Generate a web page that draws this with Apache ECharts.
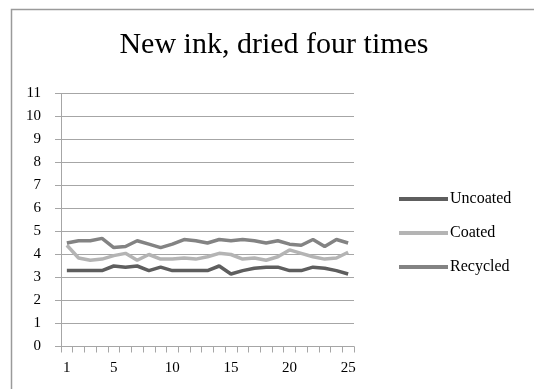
<!DOCTYPE html>
<html>
<head>
<meta charset="utf-8">
<script src="https://cdn.jsdelivr.net/npm/echarts@6/dist/echarts.min.js"></script>
<style>
  html, body { margin: 0; padding: 0; background: #ffffff; }
  #chart { width: 534px; height: 389px; }
</style>
</head>
<body>
<div id="chart"></div>
<script>
// Sample numbers along the x axis
const categories = ['1','2','3','4','5','6','7','8','9','10','11','12','13','14','15','16','17','18','19','20','21','22','23','24','25'];

// Measured values for each paper type
const uncoated = [3.3, 3.3, 3.3, 3.3, 3.5, 3.45, 3.5, 3.3, 3.45, 3.3, 3.3, 3.3, 3.3, 3.5, 3.15, 3.3, 3.4, 3.45, 3.45, 3.3, 3.3, 3.45, 3.4, 3.3, 3.15];
const coated   = [4.4, 3.85, 3.75, 3.8, 3.95, 4.05, 3.75, 4.0, 3.8, 3.8, 3.85, 3.8, 3.9, 4.05, 4.0, 3.8, 3.85, 3.75, 3.9, 4.2, 4.05, 3.9, 3.8, 3.85, 4.1];
const recycled = [4.5, 4.6, 4.6, 4.7, 4.3, 4.35, 4.6, 4.45, 4.3, 4.45, 4.65, 4.6, 4.5, 4.65, 4.6, 4.65, 4.6, 4.5, 4.6, 4.45, 4.4, 4.65, 4.35, 4.65, 4.5];

// Which category indices carry a visible label
const labelledIdx = [0, 4, 9, 14, 19, 24];

const serif = '"Liberation Serif", "DejaVu Serif", serif';
const gridGray = '#a6a6a6';

const chart = echarts.init(document.getElementById('chart'), null, { renderer: 'canvas' });

function lineSeries(name, data, color) {
  return {
    name: name,
    type: 'line',
    data: data,
    symbol: 'none',
    smooth: false,
    lineStyle: { color: color, width: 3.5 },
    itemStyle: { color: color },
    emphasis: { disabled: true }
  };
}

chart.setOption({
  animation: false,
  backgroundColor: '#ffffff',
  graphic: [{
    type: 'rect',
    shape: { x: 11.5, y: 9.5, width: 600, height: 500 },
    style: { fill: 'none', stroke: '#9a9a9a', lineWidth: 1.5 },
    silent: true
  }],
  title: {
    text: 'New ink, dried four times',
    left: 269,
    textAlign: 'center',
    top: 25,
    textStyle: { fontFamily: serif, fontSize: 30, fontWeight: 'normal', color: '#000000' }
  },
  legend: {
    orient: 'vertical',
    left: 394,
    top: 186,
    itemWidth: 49,
    itemHeight: 4,
    itemGap: 18,
    icon: 'rect',
    textStyle: { fontFamily: serif, fontSize: 16, color: '#000000', padding: [0, 0, 0, -3] },
    data: ['Uncoated', 'Coated', 'Recycled']
  },
  grid: { left: 61, top: 93.5, right: 180, bottom: 42.5, containLabel: false },
  xAxis: {
    type: 'category',
    data: categories,
    boundaryGap: true,
    axisLine: { lineStyle: { color: gridGray, width: 1 } },
    axisTick: { show: true, interval: 0, length: 6, lineStyle: { color: gridGray } },
    axisLabel: {
      interval: function (idx) { return labelledIdx.indexOf(idx) >= 0; },
      margin: 14,
      fontFamily: serif, fontSize: 15, color: '#000000'
    },
    splitLine: { show: false }
  },
  yAxis: {
    type: 'value',
    min: 0,
    max: 11,
    interval: 1,
    axisLine: { show: true, lineStyle: { color: gridGray, width: 1 } },
    axisTick: { show: true, length: 6, lineStyle: { color: gridGray } },
    axisLabel: { margin: 20, fontFamily: serif, fontSize: 15, color: '#000000' },
    splitLine: { show: true, lineStyle: { color: gridGray, width: 1 } }
  },
  series: [
    lineSeries('Uncoated', uncoated, '#5e5e5e'),
    lineSeries('Coated', coated, '#b4b4b4'),
    lineSeries('Recycled', recycled, '#838383')
  ]
});
</script>
</body>
</html>
